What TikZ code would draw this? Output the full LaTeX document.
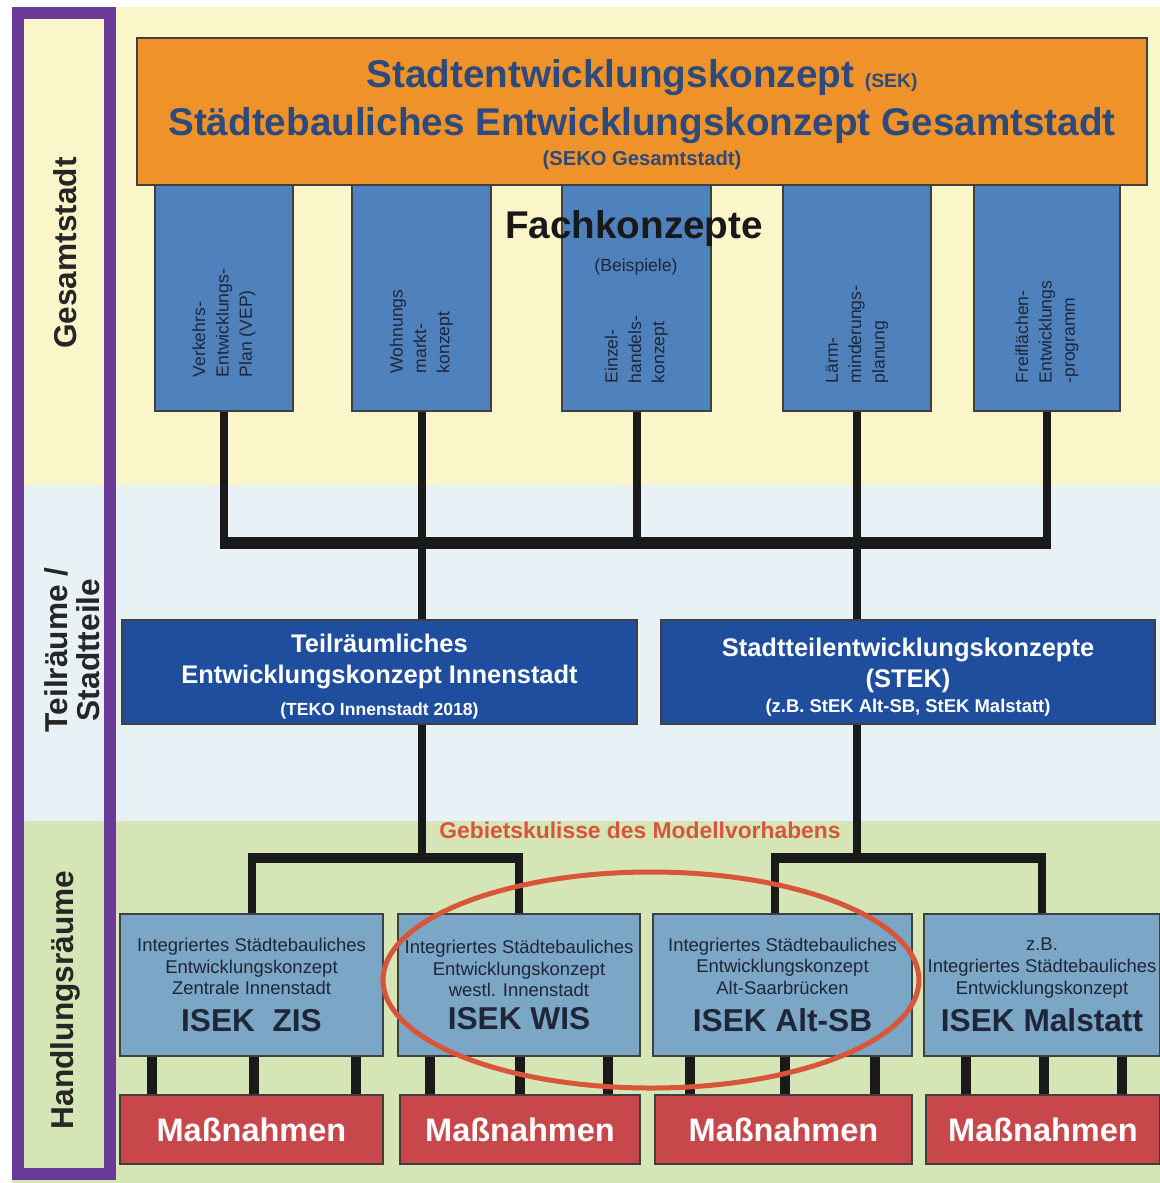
\documentclass[tikz,border=0pt]{standalone}
\usepackage{fontspec}
\setmainfont{Liberation Sans}
\usetikzlibrary{positioning}
\definecolor{bandYellow}{RGB}{250,246,202}
\definecolor{bandBlue}{RGB}{232,242,246}
\definecolor{bandGreen}{RGB}{213,229,181}
\definecolor{framePurple}{RGB}{107,58,150}
\definecolor{sekOrange}{RGB}{240,146,42}
\definecolor{sekText}{RGB}{44,74,124}
\definecolor{fachBlue}{RGB}{79,129,189}
\definecolor{teilBlue}{RGB}{31,78,158}
\definecolor{isekBlue}{RGB}{124,166,198}
\definecolor{massRed}{RGB}{200,71,75}
\definecolor{kulisseRed}{RGB}{217,85,58}
\definecolor{darkText}{RGB}{30,38,56}
\definecolor{connBlack}{RGB}{26,26,26}

\tikzset{
  box/.style={draw=black!75, line width=0.25mm, inner sep=0pt, align=center},
  sekbox/.style={box, fill=sekOrange, minimum width=202mm, minimum height=29.4mm},
  sektext/.style={align=center, inner sep=0pt, text=sekText, font=\bfseries\fontsize{22}{27}\selectfont},
  fachbox/.style={box, fill=fachBlue, minimum height=45.2mm},
  fachtext/.style={rotate=90, anchor=west, align=left, text=darkText,
    font=\fontsize{10}{13.3}\selectfont, inner sep=0pt},
  teilbox/.style={box, fill=teilBlue, minimum height=20.8mm},
  teiltext/.style={align=center, inner sep=0pt, text=white, font=\bfseries\fontsize{14.5}{18}\selectfont},
  isekbox/.style={box, fill=isekBlue, text=darkText, font=\fontsize{10.5}{12.3}\selectfont,
    minimum height=28.4mm},
  massbox/.style={box, fill=massRed, text=white, font=\bfseries\fontsize{18.5}{22}\selectfont,
    minimum height=13.8mm},
  sidelabel/.style={rotate=90, text=black!85, align=center, font=\bfseries\fontsize{18}{18}\selectfont},
  conn/.style={draw=connBlack, line width=1.6mm},
  connbar/.style={draw=connBlack, line width=2.4mm, shorten <=-0.8mm, shorten >=-0.8mm},
  connbarlow/.style={draw=connBlack, line width=2mm, shorten <=-0.8mm, shorten >=-0.8mm},
  stub/.style={draw=connBlack, line width=2mm},
}

\begin{document}
\begin{tikzpicture}[x=0.2mm, y=-0.2mm]
  \useasboundingbox (0,0) rectangle (1160,1183);

  %% Bands
  \fill[bandYellow] (12,7) rectangle (1160,485);
  \fill[bandBlue] (12,485) rectangle (1160,821);
  \fill[bandGreen] (12,821) rectangle (1160,1183);

  %% Side frame and labels
  \draw[framePurple, line width=2.5mm] (18,13) rectangle (110,1174);
  \node[sidelabel] (gesamt) at (65,253) {Gesamtstadt};
  \node[sidelabel] (teilraeume) at (72,650) {Teilräume /\\Stadtteile};
  \node[sidelabel] (handlung) at (65,1000) {Handlungsräume};

  %% Fachkonzepte
  \node[fachbox, minimum width=27.6mm] (vep) at (224,298) {};
  \node[fachbox, minimum width=27.8mm] (wohn) at (421.5,298) {};
  \node[fachbox, minimum width=29.8mm] (einz) at (636.5,298) {};
  \node[fachbox, minimum width=29.6mm] (laerm) at (857,298) {};
  \node[fachbox, minimum width=29.2mm] (frei) at (1047,298) {};
  \node[fachtext] (vepT) at ([yshift=6.8mm]vep.south) {Verkehrs-\\Entwicklungs-\\Plan (VEP)};
  \node[fachtext] (wohnT) at ([yshift=7.6mm]wohn.south) {Wohnungs\\markt-\\konzept};
  \node[fachtext] (einzT) at ([yshift=5.6mm]einz.south) {Einzel-\\handels-\\konzept};
  \node[fachtext] (laermT) at ([yshift=5.6mm]laerm.south) {Lärm-\\minderungs-\\planung};
  \node[fachtext] (freiT) at ([yshift=5.6mm]frei.south) {Freiflächen-\\Entwicklungs\\-programm};

  %% SEK box
  \node[sekbox] (sek) at (642,111.5) {};
  \node[sektext] (sekT) at ([yshift=-0.6mm]sek.center)
    {Stadtentwicklungskonzept {\fontsize{11}{13}\selectfont (SEK)}\\
     Städtebauliches Entwicklungskonzept Gesamtstadt\\[-10pt]
     {\fontsize{11.5}{13}\selectfont (SEKO Gesamtstadt)}};

  \node[font=\bfseries\fontsize{22}{26}\selectfont, text=black!90] (fachtitle) at (634,228) {Fachkonzepte};
  \node[font=\fontsize{10}{12}\selectfont, text=darkText] (beispiele) at (636,267) {(Beispiele)};

  %% Teilraeume
  \node[teilbox, minimum width=103mm] (teko) at (379.5,672) {};
  \node[teiltext] (tekoT) at ([yshift=-0.9mm]teko.center)
    {Teilräumliches\\Entwicklungskonzept Innenstadt\\
     {\fontsize{10}{12}\selectfont (TEKO Innenstadt 2018)}};
  \node[teilbox, minimum width=98.8mm] (stek) at (908,672) {};
  \node[teiltext] (stekT) at ([yshift=-1mm]stek.center)
    {Stadtteilentwicklungskonzepte\\(STEK)\\[-4pt]
     {\fontsize{10.5}{12}\selectfont (z.B. StEK Alt-SB, StEK Malstatt)}};

  %% Connectors top
  \coordinate (barF) at (0,543);
  \draw[conn] (vep.south) -- (vep.south |- barF);
  \draw[conn] (einz.south) -- (einz.south |- barF);
  \draw[conn] (frei.south) -- (frei.south |- barF);
  \draw[conn] (wohn.south) -- (wohn.south |- teko.north);
  \draw[conn] (laerm.south) -- (laerm.south |- stek.north);
  \draw[connbar] (vep.south |- barF) -- (frei.south |- barF);

  \node[text=kulisseRed, font=\bfseries\fontsize{13}{15}\selectfont] (kulisse) at (640,830)
    {Gebietskulisse des Modellvorhabens};

  %% ISEK boxes
  \node[isekbox, minimum width=52.6mm] (isekA) at (251.5,985)
    {Integriertes Städtebauliches\\Entwicklungskonzept\\Zentrale Innenstadt\\[7pt]
     {\bfseries\fontsize{18}{20}\selectfont ISEK\ \ ZIS}};
  \node[isekbox, minimum width=48.4mm] (isekB) at (519,985)
    {Integriertes Städtebauliches\\Entwicklungskonzept\\westl. Innenstadt\\[5pt]
     {\bfseries\fontsize{18}{20}\selectfont ISEK WIS}};
  \node[isekbox, minimum width=51.8mm] (isekC) at (782.5,985)
    {Integriertes Städtebauliches\\Entwicklungskonzept\\Alt-Saarbrücken\\[7pt]
     {\bfseries\fontsize{18}{20}\selectfont ISEK Alt-SB}};
  \node[isekbox, minimum width=47.2mm] (isekD) at (1042,985)
    {z.B.\\Integriertes Städtebauliches\\Entwicklungskonzept\\[5pt]
     {\bfseries\fontsize{18}{20}\selectfont ISEK Malstatt}};

  %% Massnahmen
  \node[massbox, minimum width=52.6mm] (massA) at (251.5,1129.5) {Maßnahmen};
  \node[massbox, minimum width=48mm] (massB) at (520,1129.5) {Maßnahmen};
  \node[massbox, minimum width=51.4mm] (massC) at (783.5,1129.5) {Maßnahmen};
  \node[massbox, minimum width=46.8mm] (massD) at (1043,1129.5) {Maßnahmen};

  %% Connectors bottom
  \coordinate (barL) at (0,858);
  \draw[conn] (teko.south -| wohn.south) -- (wohn.south |- barL);
  \draw[conn] (stek.south -| laerm.south) -- (laerm.south |- barL);
  \draw[connbarlow] (isekA.north |- barL) -- (isekB.north |- barL);
  \draw[connbarlow] ([xshift=-1.5mm]isekC.north |- barL) -- (isekD.north |- barL);
  \draw[conn] (isekA.north |- barL) -- (isekA.north);
  \draw[conn] (isekB.north |- barL) -- (isekB.north);
  \draw[conn] ([xshift=-1.5mm]isekC.north |- barL) -- ([xshift=-1.5mm]isekC.north);
  \draw[conn] (isekD.north |- barL) -- (isekD.north);

  \foreach \x in {152,254,356} \draw[stub] (\x,0 |- isekA.south) -- (\x,0 |- massA.north);
  \foreach \x in {430,520,608} \draw[stub] (\x,0 |- isekB.south) -- (\x,0 |- massB.north);
  \foreach \x in {690,785,875} \draw[stub] (\x,0 |- isekC.south) -- (\x,0 |- massC.north);
  \foreach \x in {966,1044,1122} \draw[stub] (\x,0 |- isekD.south) -- (\x,0 |- massD.north);

  %% Gebietskulisse ellipse
  \draw[kulisseRed, line width=1mm] (651,980) ellipse [x radius=53.6mm, y radius=21.6mm];
\end{tikzpicture}
\end{document}
